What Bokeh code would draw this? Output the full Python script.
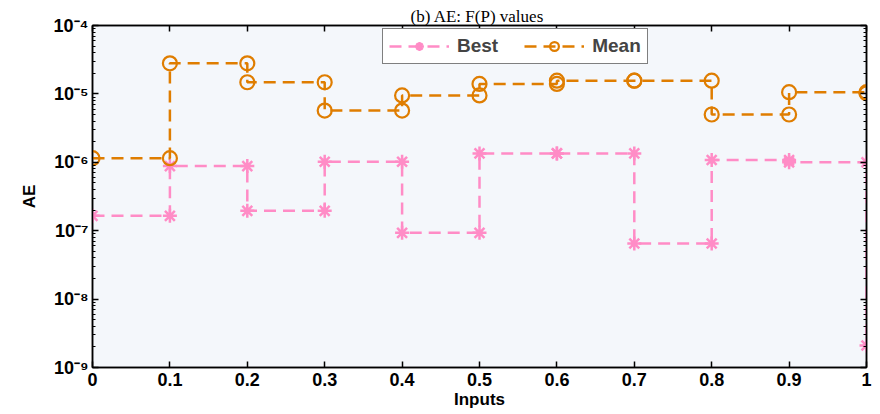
from bokeh.plotting import figure
from bokeh.models import (LogAxis, LinearAxis, FixedTicker, CustomJSTickFormatter,
                          Legend, LegendItem)
from bokeh.embed import file_html
from bokeh.resources import INLINE

# ---- data ----
inputs = [0.0, 0.1, 0.2, 0.3, 0.4, 0.5, 0.6, 0.7, 0.8, 0.9, 1.0]
x_tick_labels = ["0", "0.1", "0.2", "0.3", "0.4", "0.5", "0.6", "0.7", "0.8", "0.9", "1"]
best = [1.65e-7, 8.8e-7, 1.95e-7, 1.02e-6, 9.3e-8, 1.35e-6, 1.35e-6, 6.5e-8, 1.08e-6, 1.0e-6, 2.1e-9]
mean = [1.15e-6, 2.8e-5, 1.48e-5, 5.7e-6, 9.5e-6, 1.4e-5, 1.56e-5, 1.56e-5, 5.0e-6, 1.06e-5, 1.02e-5]
y_ticks = [1e-9, 1e-8, 1e-7, 1e-6, 1e-5, 1e-4]
title_text = "(b)  AE: F(P) values"

PINK = "#ff8cc6"
ORANGE = "#df7d00"
FONT = "Liberation Sans"


def stairs(x, y):
    xs, ys = [x[0]], [y[0]]
    for i in range(1, len(x)):
        xs += [x[i], x[i]]
        ys += [y[i - 1], y[i]]
    return xs, ys


bx, by = stairs(inputs, best)
mx, my = stairs(inputs, mean)
minor_y = [k * t for t in y_ticks[:-1] for k in range(2, 10)]

p = figure(width=880, height=414, y_axis_type="log",
           x_range=(0, 1), y_range=(1e-9, 1e-4),
           output_backend="svg", toolbar_location=None,
           min_border_left=92, min_border_right=14, min_border_top=25, min_border_bottom=47,
           background_fill_color="#f4f7fb", border_fill_color="white")
p.grid.visible = False
p.outline_line_color = "black"
p.outline_line_width = 1.5

p.title.text = title_text
p.title.text_font = "Liberation Serif"
p.title.text_font_size = "17px"
p.title.text_font_style = "normal"
p.title.text_color = "black"
p.title.align = "center"
p.title.offset = -10
p.title.standoff = 0

lb = p.line(bx, by, line_color=PINK, line_width=2.5, line_dash="12 7")
sb = p.scatter(bx, by, marker="asterisk", size=14, line_color=PINK, line_width=2.5)
lm = p.line(mx, my, line_color=ORANGE, line_width=2.5, line_dash="12 7")
sm = p.scatter(mx, my, marker="circle", size=14, line_color=ORANGE, line_width=2.2,
               fill_color=None)

sup_js = """
const m = {'-':'\u207b','0':'\u2070','1':'\u00b9','2':'\u00b2','3':'\u00b3','4':'\u2074',
           '5':'\u2075','6':'\u2076','7':'\u2077','8':'\u2078','9':'\u2079'};
const e = String(Math.round(Math.log10(tick)));
let s = '';
for (const c of e) { s += m[c]; }
return '10' + s;
"""

xa = p.xaxis[0]
xa.ticker = FixedTicker(ticks=inputs)
xa.major_label_overrides = {t: l for t, l in zip(inputs, x_tick_labels)}
xa.axis_label = "Inputs"
ya = p.yaxis[0]
ya.ticker = FixedTicker(ticks=y_ticks, minor_ticks=minor_y)
ya.formatter = CustomJSTickFormatter(code=sup_js)
ya.axis_label = "AE"

for ax in (xa, ya):
    ax.major_tick_in = 6
    ax.major_tick_out = 0
    ax.minor_tick_in = 3
    ax.minor_tick_out = 0
    ax.axis_line_color = "black"
    ax.axis_line_width = 1.5
    ax.major_tick_line_color = "black"
    ax.major_tick_line_width = 1.5
    ax.minor_tick_line_color = "black"
    ax.major_label_text_font = FONT
    ax.major_label_text_font_style = "bold"
    ax.major_label_text_font_size = "18px"
    ax.major_label_text_color = "black"
    ax.axis_label_text_font = FONT
    ax.axis_label_text_font_style = "bold"
    ax.axis_label_text_font_size = "17px"
    ax.axis_label_text_color = "black"
xa.minor_tick_in = 0
xa.major_label_standoff = 5
xa.axis_label_standoff = 1
ya.major_label_standoff = 4
ya.axis_label_standoff = 12

top = LinearAxis(ticker=FixedTicker(ticks=inputs), major_tick_in=6, major_tick_out=0,
                 minor_tick_in=0, minor_tick_out=0, major_label_text_alpha=0,
                 major_label_text_font_size="2px",
                 major_label_standoff=0, axis_line_width=1.5, major_tick_line_width=1.5)
top.formatter = CustomJSTickFormatter(code="return ' ';")
p.add_layout(top, "above")
right = LogAxis(ticker=FixedTicker(ticks=y_ticks, minor_ticks=minor_y),
                major_tick_in=6, major_tick_out=0, minor_tick_in=3, minor_tick_out=0,
                major_label_text_alpha=0, major_label_text_font_size="6px",
                major_label_standoff=0,
                axis_line_width=1.5, major_tick_line_width=1.5)
right.formatter = CustomJSTickFormatter(code="return ' ';")
p.add_layout(right, "right")

legend = Legend(items=[LegendItem(label="Best", renderers=[lb, sb]),
                       LegendItem(label="Mean", renderers=[lm, sm])],
                orientation="horizontal", location=(290, 303),
                border_line_color="black", border_line_width=1.5,
                background_fill_color="white", background_fill_alpha=1,
                label_text_font=FONT, label_text_font_style="bold",
                label_text_font_size="19px", glyph_width=60, glyph_height=22,
                padding=6, spacing=26, margin=0, label_standoff=8)
p.add_layout(legend, "center")

open("out.html", "w").write(file_html(p, INLINE))
